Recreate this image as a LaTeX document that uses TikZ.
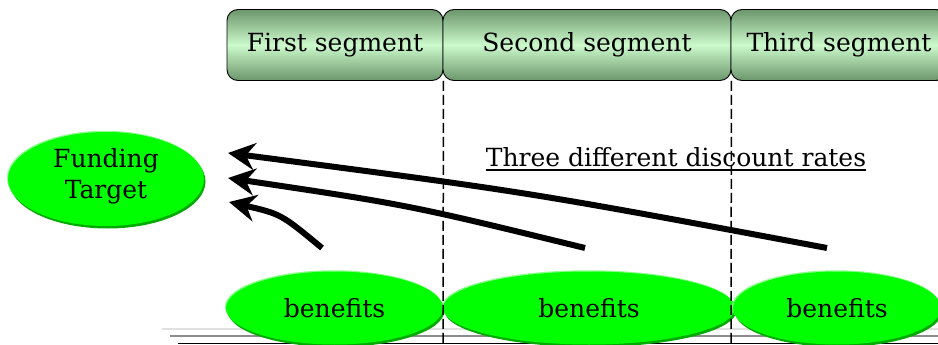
\documentclass[tikz,border=0pt]{standalone}
\usepackage{fontspec}
\setmainfont{DejaVu Serif}
\usetikzlibrary{arrows.meta,shapes.geometric,shadings,calc}

\definecolor{segedge}{RGB}{108,150,108}
\definecolor{segmid}{RGB}{204,250,204}
\definecolor{gfill}{RGB}{0,255,0}
\definecolor{gdark}{RGB}{0,170,0}
\definecolor{glight}{RGB}{140,255,140}

\tikzset{
  segbox/.style={draw=black, line width=0.9pt, rounded corners=11pt,
    top color=segedge, bottom color=segedge, middle color=segmid,
    minimum height=71pt, inner sep=0pt, font=\fontsize{25}{30}\selectfont},
  blob/.style={ellipse, fill=gfill, inner sep=0pt,
    preaction={fill=gdark, transform canvas={shift={(1.5pt,-2.5pt)}}},
    preaction={fill=glight, transform canvas={shift={(-1pt,1.2pt)}}},
    font=\fontsize{25}{30}\selectfont},
  bigtext/.style={inner sep=0pt, align=center, font=\fontsize{25}{31}\selectfont},
  divider/.style={draw=black, line width=1.5pt, dash pattern=on 10pt off 4pt},
  flow/.style={draw=black, line width=6pt,
    -{Stealth[length=27pt,width=27pt,inset=9pt]}},
}

\begin{document}
\begin{tikzpicture}[x=1pt,y=-1pt]
  \useasboundingbox (0,0) rectangle (938,345);
  \clip (0,0) rectangle (938,345);

  % baseline rules along the bottom
  \draw[draw=black!12, line width=2pt] (162,328.7) -- (938,328.7);
  \draw[draw=black!45, line width=2pt] (170,336) -- (938,336);
  \draw[draw=black, line width=1.4pt] (178,343.5) -- (938,343.5);

  % segment headers
  \node[segbox, minimum width=216pt] (s1) at (335,45) {First segment};
  \node[segbox, minimum width=288pt] (s2) at (587,45) {Second segment};
  \node[segbox, minimum width=216pt] (s3) at (839,45) {Third segment};

  % benefit blobs
  \node[blob, minimum width=217pt, minimum height=73pt] (b1) at (334.5,308) {benefits};
  \node[blob, minimum width=292pt, minimum height=73pt] (b2) at (589,308) {benefits};
  \node[blob, minimum width=208pt, minimum height=73pt] (b3) at (837,308) {benefits};

  % funding target
  \node[blob, minimum width=196pt, minimum height=94pt] (ft) at (106,179) {};
  \node[bigtext] (ftl) at (106,176) {Funding\\Target};

  % segment dividers
  \coordinate (d1) at (443,345);
  \coordinate (d2) at (731,345);
  \draw[divider] (s1.south east) -- (d1);
  \draw[divider] (s2.south east) -- (d2);

  % caption
  \node[anchor=base, inner sep=0pt, font=\fontsize{25}{30}\selectfont] (cap) at (676,166)
    {Three different discount rates};
  \draw[line width=1.7pt] ($(cap.base west)+(0,4)$) -- ($(cap.base east)+(0,4)$);

  % discounting arrows
  \coordinate (a1s) at (827,248);
  \coordinate (a1t) at (228,153);
  \coordinate (a2s) at (585,248);
  \coordinate (a2t) at (228,178);
  \coordinate (a3s) at (322,248);
  \coordinate (a3t) at (229,202);
  \draw[flow] (a1s) .. controls (528,192) .. (a1t);
  \draw[flow] (a2s) .. controls (409,205) .. (a2t);
  \draw[flow] (a3s) .. controls (281,214) .. (a3t);
\end{tikzpicture}
\end{document}
